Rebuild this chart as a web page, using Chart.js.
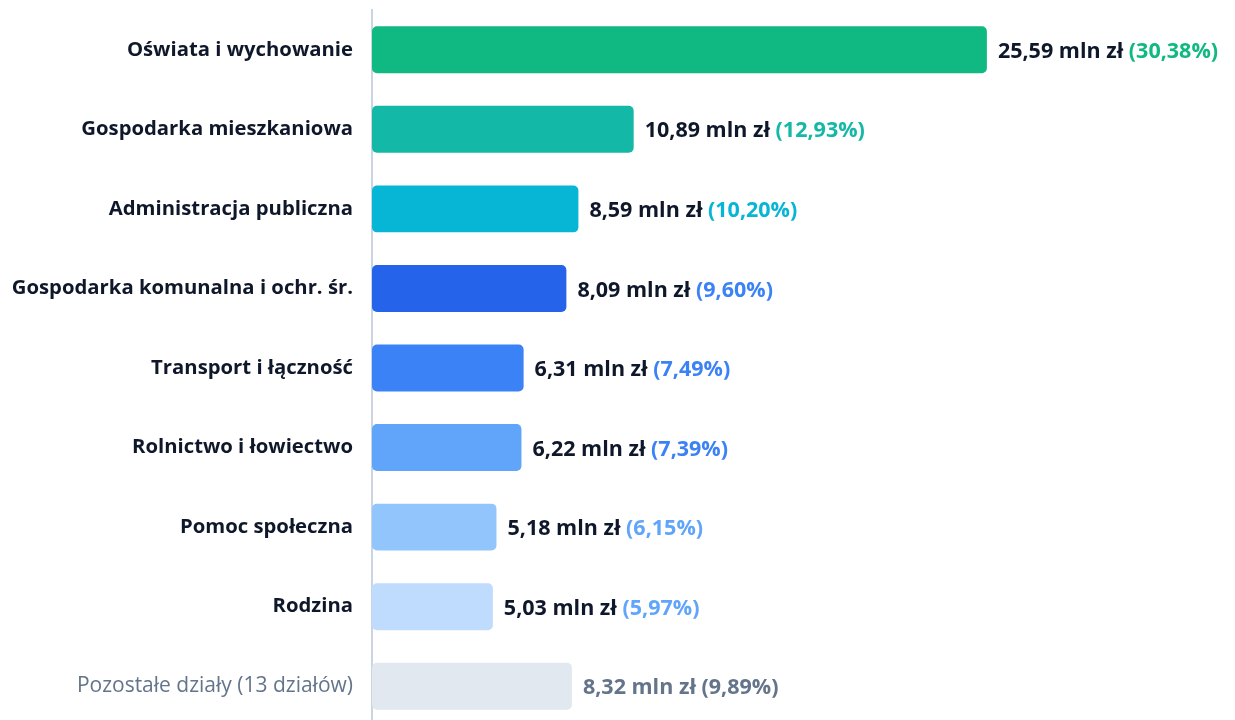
<!DOCTYPE html>
<html lang="pl">
<head>
<meta charset="utf-8">
<title>Wydatki według działów</title>
<script src="https://cdn.jsdelivr.net/npm/chart.js@4/dist/chart.umd.min.js"></script>
<style>
  html, body { margin: 0; padding: 0; background: #fff; overflow: hidden; }
  #wrap { width: 1235px; height: 730px; position: relative; }
</style>
</head>
<body>
<div id="wrap"><canvas id="wydatkiChart"></canvas></div>
<script>
const categories = [
  'Oświata i wychowanie',
  'Gospodarka mieszkaniowa',
  'Administracja publiczna',
  'Gospodarka komunalna i ochr. śr.',
  'Transport i łączność',
  'Rolnictwo i łowiectwo',
  'Pomoc społeczna',
  'Rodzina',
  'Pozostałe działy (13 działów)'
];
const amounts = [25.59, 10.89, 8.59, 8.09, 6.31, 6.22, 5.18, 5.03, 8.32]; // mln zł
const shares = [30.38, 12.93, 10.20, 9.60, 7.49, 7.39, 6.15, 5.97, 9.89]; // %
const barColors = ['#10b981', '#14b8a6', '#06b6d4', '#2563eb', '#3b82f6', '#60a5fa', '#93c5fd', '#bfdbfe', '#e2e8f0'];
const shareColors = ['#10b981', '#14b8a6', '#06b6d4', '#3b82f6', '#3b82f6', '#3b82f6', '#60a5fa', '#60a5fa', '#64748b'];

const FONT = '"Open Sans", "Noto Sans", sans-serif';
const DARK = '#0f172a';
const MUTED = '#64748b';
const lastIdx = categories.length - 1;

const fmt = v => v.toFixed(2).replace('.', ',');

// value + share labels at the end of each bar
const valueLabels = {
  id: 'valueLabels',
  afterDatasetsDraw(chart) {
    const ctx = chart.ctx;
    const meta = chart.getDatasetMeta(0);
    ctx.save();
    ctx.font = 'bold 21.5px ' + FONT;
    ctx.textBaseline = 'middle';
    ctx.textAlign = 'left';
    meta.data.forEach((bar, i) => {
      const main = fmt(amounts[i]) + ' mln zł ';
      const pct = '(' + fmt(shares[i]) + '%)';
      const x = bar.x + 11;
      const y = bar.y + 2;
      ctx.fillStyle = i === lastIdx ? MUTED : DARK;
      ctx.fillText(main, x, y);
      ctx.fillStyle = shareColors[i];
      ctx.fillText(pct, x + ctx.measureText(main).width, y);
    });
    ctx.restore();
  }
};

new Chart(document.getElementById('wydatkiChart').getContext('2d'), {
  type: 'bar',
  data: {
    labels: categories,
    datasets: [{
      label: 'Wydatki (mln zł)',
      data: amounts,
      backgroundColor: barColors,
      borderRadius: 5,
      borderSkipped: false,
      barPercentage: 0.59,
      categoryPercentage: 1
    }]
  },
  options: {
    indexAxis: 'y',
    responsive: true,
    maintainAspectRatio: false,
    animation: false,
    layout: { padding: { top: 10, bottom: 4, right: 22, left: 0 } },
    plugins: {
      legend: { display: false },
      tooltip: { enabled: false }
    },
    scales: {
      x: {
        display: false,
        min: 0,
        max: 35
      },
      y: {
        afterFit(scale) {
          scale.width = 372;
          scale.paddingTop = 0;
          scale.paddingBottom = 0;
        },
        grid: { display: false, drawTicks: false },
        border: { display: true, color: '#cbd5e1', width: 2 },
        ticks: {
          padding: 19,
          color: c => c.index === lastIdx ? MUTED : DARK,
          font: c => ({
            family: FONT,
            size: c.index === lastIdx ? 21 : 20.3,
            weight: c.index === lastIdx ? 'normal' : 'bold'
          })
        }
      }
    }
  },
  plugins: [valueLabels]
});
</script>
</body>
</html>
